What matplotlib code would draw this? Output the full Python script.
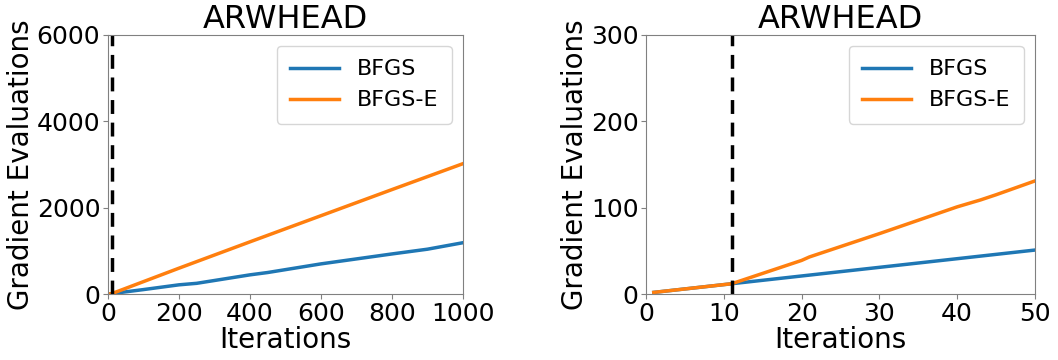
import matplotlib
matplotlib.use("Agg")
import matplotlib.pyplot as plt

# left panel: full run
left_bfgs_x = [1, 100, 200, 250, 400, 450, 600, 800, 900, 1000]
left_bfgs_y = [2, 105, 215, 250, 446, 500, 700, 930, 1040, 1190]
left_bfgse_x = [1, 11, 200, 400, 600, 800, 1000]
left_bfgse_y = [2, 12, 600, 1210, 1815, 2420, 3020]

# right panel: first 50 iterations
right_bfgs_x = [1, 11, 20, 30, 40, 50]
right_bfgs_y = [2, 12, 21, 31, 41, 51]
right_bfgse_x = [1, 11, 15, 20, 21, 30, 40, 43, 45, 50]
right_bfgse_y = [2, 12, 24, 39, 43, 70, 101, 109, 115, 131]

switch_iter = 11
title = "ARWHEAD"

fig = plt.figure(figsize=(10.58, 3.6), dpi=100)
ax1 = fig.add_axes([0.102, 0.183, 0.3356, 0.72])
ax2 = fig.add_axes([0.6106, 0.183, 0.3676, 0.72])

panels = [
    (ax1, left_bfgs_x, left_bfgs_y, left_bfgse_x, left_bfgse_y, 1000, 6000,
     [0, 200, 400, 600, 800, 1000], [0, 2000, 4000, 6000]),
    (ax2, right_bfgs_x, right_bfgs_y, right_bfgse_x, right_bfgse_y, 50, 300,
     [0, 10, 20, 30, 40, 50], [0, 100, 200, 300]),
]

for ax, bx, by, ex, ey, xmax, ymax, xt, yt in panels:
    ax.plot(bx, by, color="#1f77b4", lw=2.5, label="BFGS")
    ax.plot(ex, ey, color="#ff7f0e", lw=2.5, label="BFGS-E")
    ax.axvline(switch_iter, color="black", lw=2.5, ls=(0, (4, 2.5)))
    ax.set_xlim(0, xmax)
    ax.set_ylim(0, ymax)
    ax.set_xticks(xt)
    ax.set_yticks(yt)
    ax.tick_params(labelsize=18, color="gray", pad=2)
    for s in ax.spines.values():
        s.set_color("gray")
    ax.set_xlabel("Iterations", fontsize=20, labelpad=0)
    ax.set_ylabel("Gradient Evaluations", fontsize=20, labelpad=1)
    ax.set_title(title, fontsize=23, pad=2)
    ax.legend(loc="upper right", fontsize=16, handlelength=2.2,
              handletextpad=0.8, borderpad=0.6)

fig.savefig("out.png", dpi=100)
